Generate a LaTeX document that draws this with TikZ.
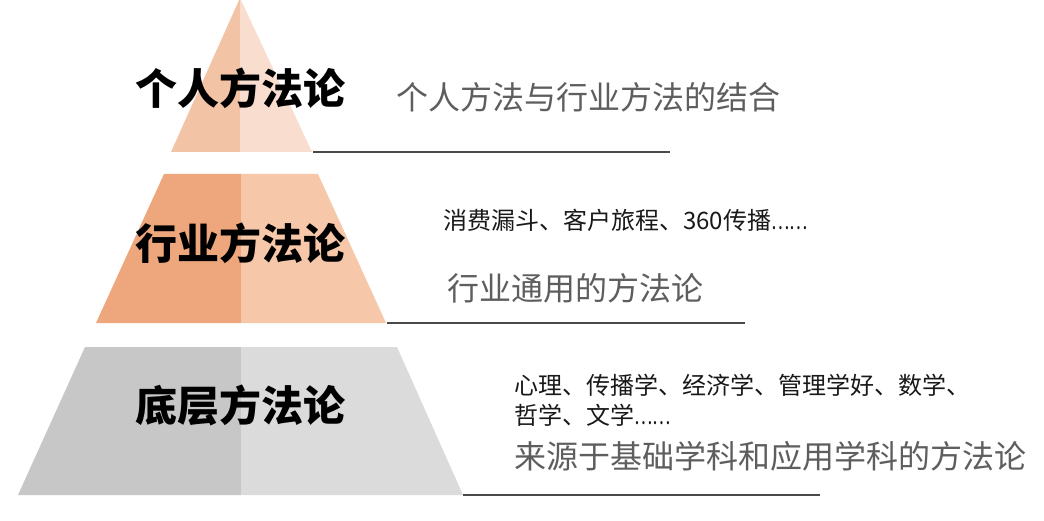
\documentclass[tikz,border=0pt]{standalone}
\usepackage{fontspec}
\usepackage{graphicx}
\newfontfamily\cjk{Noto Sans CJK SC}
\newfontfamily\cjkb{Noto Sans CJK SC Black}
\definecolor{toplft}{HTML}{F3C3A6}
\definecolor{toprgt}{HTML}{F9DED0}
\definecolor{midlft}{HTML}{EEA77D}
\definecolor{midrgt}{HTML}{F6C7A8}
\definecolor{botlft}{HTML}{C7C7C7}
\definecolor{botrgt}{HTML}{DBDBDB}
\definecolor{rulecol}{HTML}{4A4A4A}
\definecolor{graytxt}{HTML}{5E5E5E}
\newcommand{\dotsnarrow}{\scalebox{0.72}[1]{……}}
\tikzset{
  title/.style={anchor=center, inner sep=0pt, font=\cjkb\fontsize{42}{46}\selectfont, text=black},
  desc/.style={anchor=west, inner sep=0pt, font=\cjk\fontsize{32}{36}\selectfont, text=graytxt},
  small/.style={anchor=west, inner sep=0pt, font=\cjk\fontsize{24}{30}\selectfont, text=black!90},
  rule/.style={draw=rulecol, line width=1.5pt},
}
\begin{document}
\begin{tikzpicture}[x=1pt,y=-1pt]
\useasboundingbox (0,0) rectangle (1044,521);
\fill[white] (0,0) rectangle (1044,521);
% top triangle
\fill[toplft] (240,-2) -- (171,152) -- (240,152) -- cycle;
\fill[toprgt] (240,-2) -- (240,152) -- (312,152) -- cycle;
% middle trapezoid
\fill[midlft] (164,174) -- (96,323) -- (241,323) -- (241,174) -- cycle;
\fill[midrgt] (241,174) -- (241,323) -- (386,323) -- (318,174) -- cycle;
% bottom trapezoid
\fill[botlft] (85,347) -- (18,495) -- (241,495) -- (241,347) -- cycle;
\fill[botrgt] (241,347) -- (241,495) -- (463,495) -- (397,347) -- cycle;
% rules
\coordinate (r1a) at (313,152); \coordinate (r1b) at (670,152);
\coordinate (r2a) at (387,323); \coordinate (r2b) at (745,323);
\coordinate (r3a) at (463,495); \coordinate (r3b) at (820,495);
\draw[rule] (r1a) -- (r1b);
\draw[rule] (r2a) -- (r2b);
\draw[rule] (r3a) -- (r3b);
% titles
\node[title] (t1) at (240,88) {个人方法论};
\node[title] (t2) at (240,243) {行业方法论};
\node[title] (t3) at (240,405) {底层方法论};
% descriptions
\node[desc] (d1) at (396,97) {个人方法与行业方法的结合};
\node[small] (s2) at (443,220) {消费漏斗、客户旅程、360传播\dotsnarrow};
\node[desc] (d2) at (447,288) {行业通用的方法论};
\node[small] (s3a) at (514,385) {心理、传播学、经济学、管理学好、数学、};
\node[small] (s3b) at (514,415) {哲学、文学\dotsnarrow};
\node[desc] (d3) at (514,456) {来源于基础学科和应用学科的方法论};
\end{tikzpicture}
\end{document}
